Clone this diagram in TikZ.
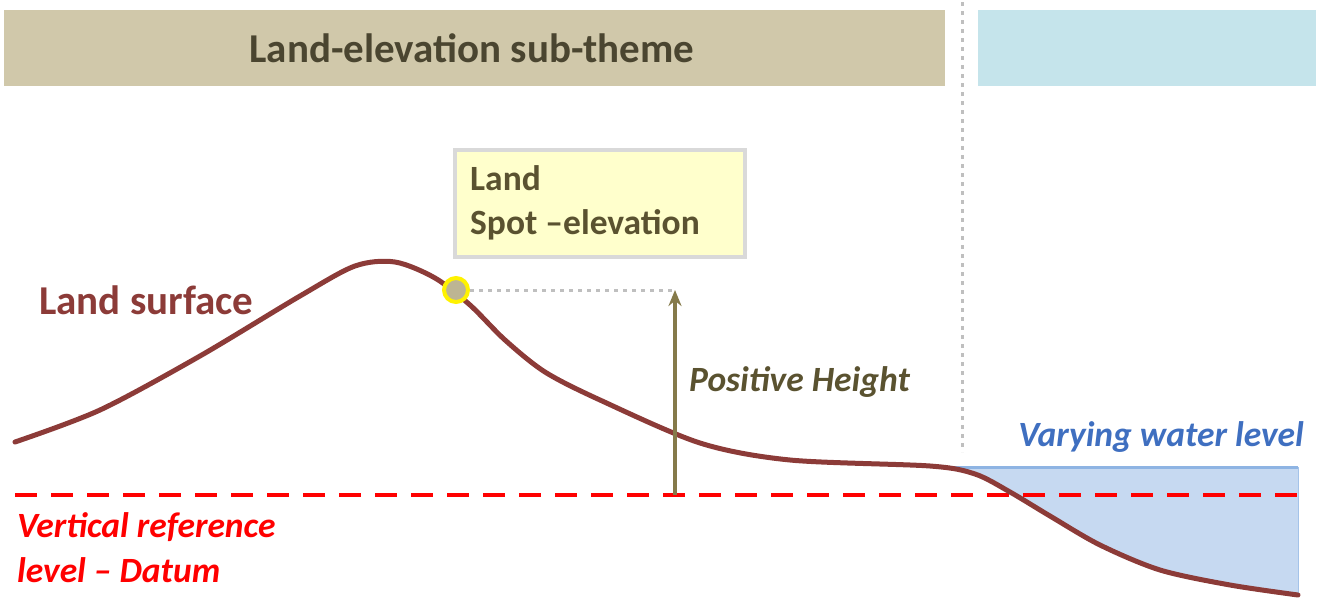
\documentclass[tikz,border=0pt]{standalone}
\usepackage{fontspec}
\setmainfont{Carlito}
\usetikzlibrary{arrows.meta}
\definecolor{tanband}{HTML}{D0C8AA}
\definecolor{blueband}{HTML}{C5E4EB}
\definecolor{titletxt}{HTML}{4A4530}
\definecolor{boxfill}{HTML}{FFFFCC}
\definecolor{boxline}{HTML}{D9D9D9}
\definecolor{olivetxt}{HTML}{5A5230}
\definecolor{arrowcol}{HTML}{857A4A}
\definecolor{landcol}{HTML}{8C3B38}
\definecolor{markfill}{HTML}{BDB593}
\definecolor{waterfill}{HTML}{C6D9F1}
\definecolor{waterline}{HTML}{8EB4E3}
\definecolor{watertxt}{HTML}{3F6FC0}
\definecolor{dotgray}{HTML}{BFBFBF}
\tikzset{
  band/.style={inner sep=0pt, minimum height=76pt, anchor=north west},
  lbl/.style={inner sep=0pt, font=\bfseries\fontsize{36}{44}\selectfont},
  ilbl/.style={lbl, font=\bfseries\itshape\fontsize{35.5}{45}\selectfont},
  dotline/.style={dotgray, line width=3pt, dash pattern=on 4pt off 5pt},
}
\begin{document}
\begin{tikzpicture}[x=1pt,y=-1pt]
\useasboundingbox (0,0) rectangle (1318,600);
% banners
\node[band, fill=tanband, minimum width=941pt] (landband) at (4,10) {};
\node[band, fill=blueband, minimum width=338pt] (waterband) at (978,10) {};
\node[font=\bfseries\fontsize{41}{44}\selectfont, text=titletxt] (title) at (472,48) {Land-elevation sub-theme};
% separator
\coordinate (septop) at (962,2);
\coordinate (sepbot) at (962,452);
\draw[dotline] (septop) -- (sepbot);
% water
\begin{scope}
\clip plot[smooth] coordinates {(15,442) (100,410) (200,356) (300,296) (355,266) (395,262) (435,278) (470,305) (505,340) (545,372) (600,400) (700,443) (790,460) (930,466) (975,474) (1010,492) (1050,516) (1100,545) (1160,570) (1230,585) (1298,595)} -- (1318,595) -- (1318,0) -- (0,0) -- cycle;
\fill[waterfill] (940,467) rectangle (1298,600);
\end{scope}
\coordinate (wl) at (945,467);
\coordinate (wr) at (1298,467);
\draw[waterline, line width=3pt] (wl) -- (wr);
\draw[waterline!60!waterfill, line width=1pt] (1298,467) -- (1298,595);
% datum
\coordinate (dl) at (15,495);
\coordinate (dr) at (1298,495);
\draw[red, line width=4pt, dash pattern=on 22pt off 14pt] (dl) -- (dr);
% land surface
\draw[landcol, line width=5pt, line cap=round] plot[smooth] coordinates {(15,442) (100,410) (200,356) (300,296) (355,266) (395,262) (435,278) (470,305) (505,340) (545,372) (600,400) (700,443) (790,460) (930,466) (975,474) (1010,492) (1050,516) (1100,545) (1160,570) (1230,585) (1298,595)};
% spot elevation
\node[circle, draw=yellow, fill=markfill, line width=4pt, minimum size=24pt, inner sep=0pt] (spot) at (456,290) {};
\coordinate (top) at (672,290);
\coordinate (base) at (675,495);
\draw[dotline] (spot) -- (top);
\draw[arrowcol, line width=4pt, -{Stealth[length=16pt,width=13pt]}] (base) -- (675,290);
% callout
\node[draw=boxline, fill=boxfill, line width=4pt, minimum width=290pt, minimum height=107pt, anchor=north west, inner sep=0pt] (callout) at (453,148) {};
\node[lbl, text=olivetxt, anchor=west, align=left, font=\bfseries\fontsize{35.5}{44}\selectfont] (callouttxt) at (470,203) {Land\\Spot –elevation};
% labels
\node[lbl, text=landcol, anchor=west, font=\bfseries\fontsize{41}{44}\selectfont] (landlbl) at (39,300) {Land surface};
\node[ilbl, text=olivetxt, anchor=west] (poslbl) at (689,382) {Positive Height};
\node[ilbl, text=watertxt, anchor=east] (waterlbl) at (1304,437) {Varying water level};
\node[ilbl, text=red, anchor=west, align=left] (datumlbl) at (17,548) {Vertical reference\\level – Datum};
\end{tikzpicture}
\end{document}
